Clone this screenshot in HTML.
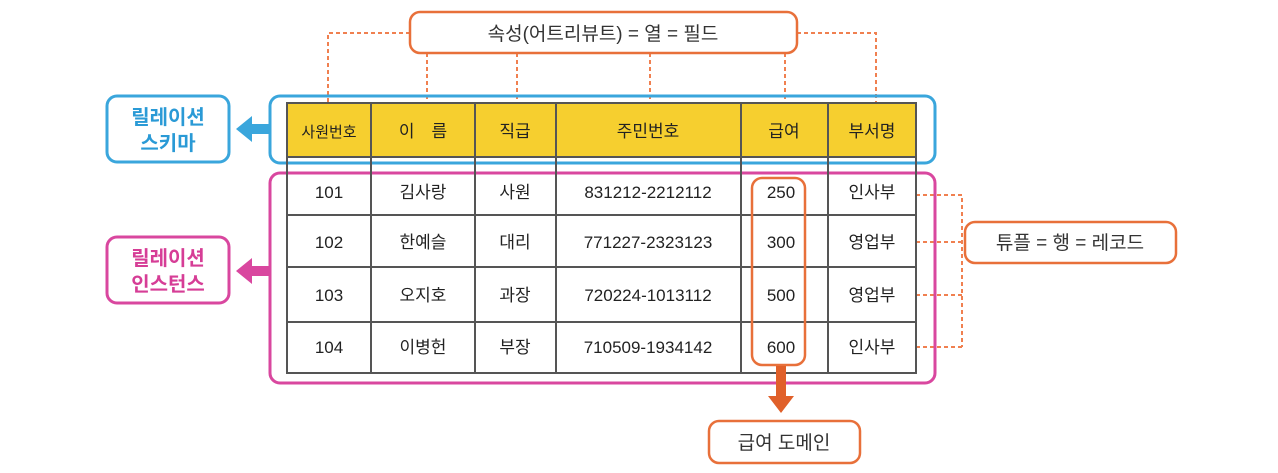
<!DOCTYPE html>
<html><head><meta charset="utf-8"><style>
body{margin:0;width:1278px;height:468px;background:#fff;overflow:hidden}
svg text{font-family:"Liberation Sans","Noto Sans CJK KR",sans-serif}
</style></head><body>
<svg width="1278" height="468">
<g fill="none" stroke="#f08050" stroke-width="2" stroke-dasharray="4,3">
<path d="M410 33H328V103M427 53V103M517 53V103M650 53V103M785 53V103M797 33H876V103"/>
<path d="M916 195H962V347M916 242H965M916 295H962M916 347H962"/>
</g>
<rect x="410" y="12" width="387" height="41" rx="10" fill="#fff" stroke="#e8703a" stroke-width="2.5"/>
<text x="603" y="40" font-size="19" text-anchor="middle" fill="#333">속성(어트리뷰트) = 열 = 필드</text>
<rect x="270" y="96" width="665" height="67" rx="10" fill="none" stroke="#3aa6dc" stroke-width="3"/>
<rect x="270" y="173" width="665" height="210" rx="10" fill="none" stroke="#d9479f" stroke-width="3"/>
<rect x="287" y="103" width="629" height="54" fill="#f6cf2f"/>
<g stroke="#555" stroke-width="2">
<rect x="287" y="103" width="629" height="270" fill="none"/>
<path d="M287 157H916M287 215H916M287 267H916M287 322H916M371 103V373M475 103V373M556 103V373M741 103V373M828 103V373"/>
</g>
<g font-size="17" text-anchor="middle" fill="#222">
<text x="329" y="137" font-size="15">사원번호</text><text x="423" y="137">이　름</text><text x="515" y="137">직급</text><text x="648" y="137">주민번호</text><text x="784" y="137">급여</text><text x="872" y="137">부서명</text>
<text x="329" y="198">101</text><text x="423" y="198">김사랑</text><text x="515" y="198">사원</text><text x="648" y="198">831212-2212112</text><text x="781" y="198">250</text><text x="872" y="198">인사부</text>
<text x="329" y="248">102</text><text x="423" y="248">한예슬</text><text x="515" y="248">대리</text><text x="648" y="248">771227-2323123</text><text x="781" y="248">300</text><text x="872" y="248">영업부</text>
<text x="329" y="301">103</text><text x="423" y="301">오지호</text><text x="515" y="301">과장</text><text x="648" y="301">720224-1013112</text><text x="781" y="301">500</text><text x="872" y="301">영업부</text>
<text x="329" y="353">104</text><text x="423" y="353">이병헌</text><text x="515" y="353">부장</text><text x="648" y="353">710509-1934142</text><text x="781" y="353">600</text><text x="872" y="353">인사부</text>
</g>
<rect x="752" y="178" width="53" height="187" rx="10" fill="none" stroke="#e8703a" stroke-width="2.5"/>
<path d="M776 366h10v30h8l-13 17-13-17h8z" fill="#e0602a"/>
<rect x="709" y="421" width="151" height="42" rx="10" fill="#fff" stroke="#e8703a" stroke-width="2.5"/>
<text x="784" y="449" font-size="19" text-anchor="middle" fill="#333">급여 도메인</text>
<rect x="965" y="222" width="211" height="41" rx="10" fill="#fff" stroke="#e8703a" stroke-width="2.5"/>
<text x="1070" y="249" font-size="19" text-anchor="middle" fill="#333">튜플 = 행 = 레코드</text>
<rect x="107" y="96" width="122" height="66" rx="10" fill="#fff" stroke="#3aa6dc" stroke-width="3"/>
<text x="168" y="124" font-size="20" font-weight="bold" text-anchor="middle" fill="#2a9ad6">릴레이션</text>
<text x="168" y="150" font-size="20" font-weight="bold" text-anchor="middle" fill="#2a9ad6">스키마</text>
<path d="M270 124h-18v-8l-16 13 16 13v-8h18z" fill="#3aa6dc"/>
<rect x="107" y="237" width="122" height="66" rx="10" fill="#fff" stroke="#d9479f" stroke-width="3"/>
<text x="168" y="265" font-size="20" font-weight="bold" text-anchor="middle" fill="#d63d96">릴레이션</text>
<text x="168" y="291" font-size="20" font-weight="bold" text-anchor="middle" fill="#d63d96">인스턴스</text>
<path d="M270 266h-18v-8l-16 13 16 13v-8h18z" fill="#d9479f"/>
</svg>
</body></html>
